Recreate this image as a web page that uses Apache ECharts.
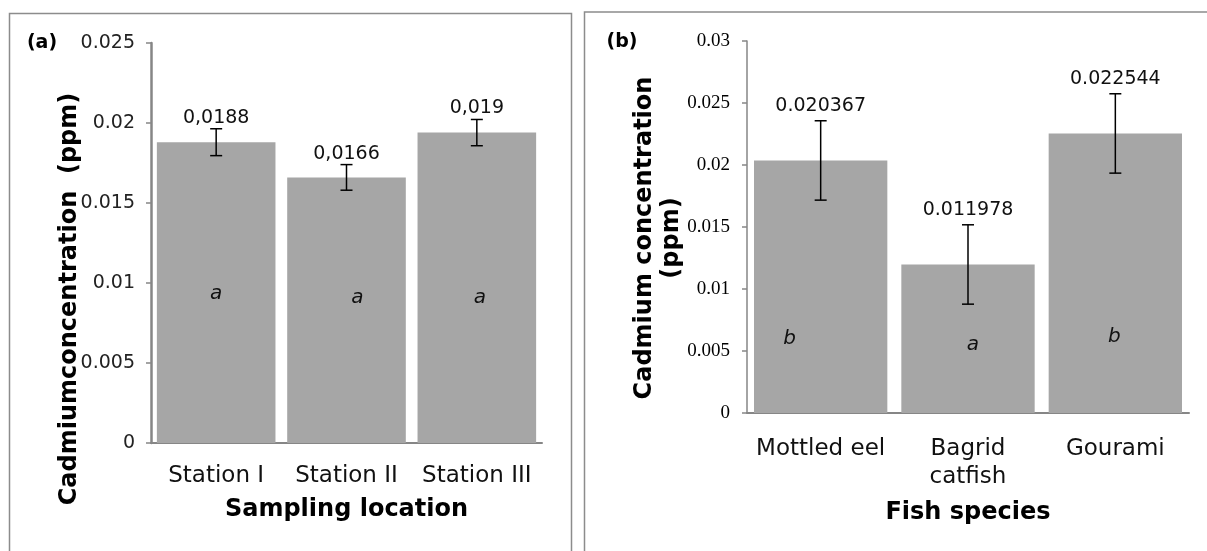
<!DOCTYPE html>
<html><head><meta charset="utf-8">
<script src="https://cdn.jsdelivr.net/npm/echarts@6/dist/echarts.min.js"></script>
<style>html,body{margin:0;padding:0;background:#fff}#c{width:1207px;height:551px}</style>
</head><body><div id="c"></div>
<script>
// ---- Panel (a) data ----
const stationsA = ['Station I', 'Station II', 'Station III'];
const valuesA = [0.0188, 0.0166, 0.0194];
const errorsA = [0.00084, 0.0008, 0.00082];
const valueLabelsA = ['0,0188', '0,0166', '0,019'];
const lettersA = ['a', 'a', 'a'];
const letterLevelA = [0.0093, 0.0091, 0.0091];
const yTicksA = ['0', '0.005', '0.01', '0.015', '0.02', '0.025'];

// ---- Panel (b) data ----
const speciesB = ['Mottled eel', 'Bagrid\ncatfish', 'Gourami'];
const valuesB = [0.020367, 0.011978, 0.022544];
const errorsB = [0.0032, 0.0032, 0.0032];
const valueLabelsB = ['0.020367', '0.011978', '0.022544'];
const lettersB = ['b', 'a', 'b'];
const letterLevelB = [0.00595, 0.00553, 0.00618];
const yTicksB = ['0', '0.005', '0.01', '0.015', '0.02', '0.025', '0.03'];

// small horizontal nudges of the significance letters (px)
const letterDxA = [0, 11, 3];
const letterDxB = [-31, 5, -1];

const SANS = '"DejaVu Sans", Verdana, sans-serif';
const SERIF = '"Liberation Serif", "Times New Roman", serif';

function errRender(values, errors, labels, lift) {
  return function (params, api) {
    const i = api.value(0);
    const v = values[i], e = errors[i];
    const top = api.coord([i, v + e]);
    const bot = api.coord([i, v - e]);
    const h = 6;
    const st = { stroke: '#000', lineWidth: 1.5 };
    return {
      type: 'group', children: [
        { type: 'line', shape: { x1: top[0], y1: top[1], x2: bot[0], y2: bot[1] }, style: st },
        { type: 'line', shape: { x1: top[0] - h, y1: top[1], x2: top[0] + h, y2: top[1] }, style: st },
        { type: 'line', shape: { x1: bot[0] - h, y1: bot[1], x2: bot[0] + h, y2: bot[1] }, style: st },
        { type: 'text', x: top[0], y: top[1] - lift,
          style: { text: labels[i], font: '19px ' + SANS, fill: '#111', align: 'center', verticalAlign: 'middle' } }
      ]
    };
  };
}
function letterRender(letters, levels, dx) {
  return function (params, api) {
    const i = api.value(0);
    const p = api.coord([i, levels[i]]);
    return { type: 'text', x: p[0] + dx[i], y: p[1],
      style: { text: letters[i], font: 'italic 20px ' + SANS, fill: '#111', align: 'center', verticalAlign: 'middle' } };
  };
}

const chart = echarts.init(document.getElementById('c'), null, { renderer: 'canvas' });
const axisGray = '#868686';
chart.setOption({
  animation: false,
  backgroundColor: '#fff',
  grid: [
    { left: 151, top: 43, width: 391, height: 400 },
    { left: 747, top: 41, width: 442, height: 372 }
  ],
  xAxis: [
    { type: 'category', gridIndex: 0, data: stationsA,
      axisLine: { lineStyle: { color: axisGray, width: 2 } },
      axisTick: { length: 7, lineStyle: { color: axisGray, width: 1.5 } },
      axisLabel: { margin: 22, fontSize: 23, fontFamily: SANS, color: '#111', interval: 0 },
      name: 'Sampling location', nameLocation: 'middle', nameGap: 55,
      nameTextStyle: { fontSize: 24, fontWeight: 'bold', fontFamily: SANS, color: '#000' } },
    { type: 'category', gridIndex: 1, data: speciesB,
      axisLine: { lineStyle: { color: axisGray, width: 2 } },
      axisTick: { length: 7, lineStyle: { color: axisGray, width: 1.5 } },
      axisLabel: { margin: 22, fontSize: 23, lineHeight: 28, fontFamily: SANS, color: '#111', interval: 0 },
      name: 'Fish species', nameLocation: 'middle', nameGap: 88,
      nameTextStyle: { fontSize: 24, fontWeight: 'bold', fontFamily: SANS, color: '#000' } }
  ],
  yAxis: [
    { type: 'value', gridIndex: 0, min: 0, max: 0.025, interval: 0.005,
      axisLine: { show: true, lineStyle: { color: axisGray, width: 2.5 } },
      axisTick: { show: true, length: 5, lineStyle: { color: axisGray, width: 1.5 } },
      splitLine: { show: false },
      axisLabel: { margin: 16, fontSize: 19, fontFamily: SANS, color: '#222',
        formatter: v => yTicksA[Math.round(v / 0.005)] } },
    { type: 'value', gridIndex: 1, min: 0, max: 0.03, interval: 0.005,
      axisLine: { show: true, lineStyle: { color: axisGray, width: 1.5 } },
      axisTick: { show: true, length: 5, lineStyle: { color: axisGray, width: 1.5 } },
      splitLine: { show: false },
      axisLabel: { margin: 17, fontSize: 19, fontFamily: SERIF, color: '#000',
        formatter: v => yTicksB[Math.round(v / 0.005)] } }
  ],
  series: [
    { type: 'bar', xAxisIndex: 0, yAxisIndex: 0, data: valuesA, barCategoryGap: '9%',
      itemStyle: { color: '#a6a6a6' }, z: 2 },
    { type: 'custom', xAxisIndex: 0, yAxisIndex: 0, data: valuesA.map((v, i) => [i, v]),
      renderItem: errRender(valuesA, errorsA, valueLabelsA, 11), z: 5 },
    { type: 'custom', xAxisIndex: 0, yAxisIndex: 0, data: valuesA.map((v, i) => [i, v]),
      renderItem: letterRender(lettersA, letterLevelA, letterDxA), z: 5 },
    { type: 'bar', xAxisIndex: 1, yAxisIndex: 1, data: valuesB, barCategoryGap: '9.5%',
      itemStyle: { color: '#a6a6a6' }, z: 2 },
    { type: 'custom', xAxisIndex: 1, yAxisIndex: 1, data: valuesB.map((v, i) => [i, v]),
      renderItem: errRender(valuesB, errorsB, valueLabelsB, 15), z: 5 },
    { type: 'custom', xAxisIndex: 1, yAxisIndex: 1, data: valuesB.map((v, i) => [i, v]),
      renderItem: letterRender(lettersB, letterLevelB, letterDxB), z: 5 }
  ],
  graphic: [
    { type: 'rect', shape: { x: 9.5, y: 13.5, width: 562, height: 700 },
      style: { fill: 'none', stroke: '#8c8c8c', lineWidth: 1.5 }, z: 0 },
    { type: 'rect', shape: { x: 584.5, y: 12, width: 800, height: 700 },
      style: { fill: 'none', stroke: '#8c8c8c', lineWidth: 1.5 }, z: 0 },
    { type: 'text', x: 42, y: 43,
      style: { text: '(a)', font: 'bold 19px ' + SANS, fill: '#000', align: 'center', verticalAlign: 'middle' } },
    { type: 'text', x: 622, y: 42,
      style: { text: '(b)', font: 'bold 19px ' + SANS, fill: '#000', align: 'center', verticalAlign: 'middle' } },
    { type: 'text', x: 70, y: 299, rotation: Math.PI / 2,
      style: { text: 'Cadmiumconcentration  (ppm)', font: 'bold 24px ' + SANS, fill: '#000', align: 'center', verticalAlign: 'middle' } },
    { type: 'text', x: 658, y: 238, rotation: Math.PI / 2,
      style: { text: 'Cadmium concentration\n(ppm)', font: 'bold 24px ' + SANS, lineHeight: 27, fill: '#000', align: 'center', verticalAlign: 'middle' } }
  ]
});
</script>
</body></html>
